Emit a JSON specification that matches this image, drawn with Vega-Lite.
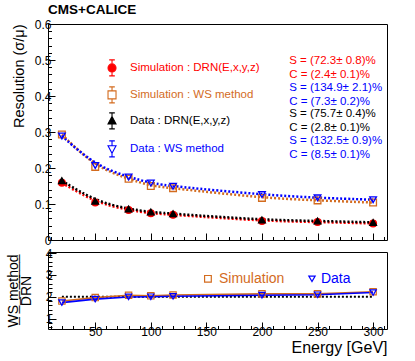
{
  "$schema": "https://vega.github.io/schema/vega-lite/v6.json",
  "padding": {"left": 5, "top": 3, "right": 0, "bottom": 0},
  "background": "white",
  "bounds": "flush",
  "title": {"text": "CMS+CALICE", "anchor": "start", "frame": "group", "fontSize": 13.5, "fontWeight": "bold", "font": "Liberation Sans", "color": "black", "offset": 1},
  "config": {
    "font": "Liberation Sans",
    "view": {"stroke": "black", "strokeWidth": 1},
    "axis": {"domain": false, "grid": false, "tickColor": "black", "labelColor": "black", "titleColor": "black", "labelFontSize": 12, "titleFontWeight": "normal", "labelFont": "Liberation Sans", "titleFont": "Liberation Sans"}
  },
  "datasets": {
    "res": [
      {"E": 20, "series": "Simulation : DRN(E,x,y,z)", "res": 0.159},
      {"E": 50, "series": "Simulation : DRN(E,x,y,z)", "res": 0.104},
      {"E": 80, "series": "Simulation : DRN(E,x,y,z)", "res": 0.083},
      {"E": 100, "series": "Simulation : DRN(E,x,y,z)", "res": 0.074},
      {"E": 120, "series": "Simulation : DRN(E,x,y,z)", "res": 0.07},
      {"E": 200, "series": "Simulation : DRN(E,x,y,z)", "res": 0.053},
      {"E": 250, "series": "Simulation : DRN(E,x,y,z)", "res": 0.05},
      {"E": 300, "series": "Simulation : DRN(E,x,y,z)", "res": 0.046},
      {"E": 20, "series": "Simulation : WS method", "res": 0.293},
      {"E": 50, "series": "Simulation : WS method", "res": 0.203},
      {"E": 80, "series": "Simulation : WS method", "res": 0.17},
      {"E": 100, "series": "Simulation : WS method", "res": 0.15},
      {"E": 120, "series": "Simulation : WS method", "res": 0.144},
      {"E": 200, "series": "Simulation : WS method", "res": 0.117},
      {"E": 250, "series": "Simulation : WS method", "res": 0.11},
      {"E": 300, "series": "Simulation : WS method", "res": 0.104},
      {"E": 20, "series": "Data : DRN(E,x,y,z)", "res": 0.165},
      {"E": 50, "series": "Data : DRN(E,x,y,z)", "res": 0.108},
      {"E": 80, "series": "Data : DRN(E,x,y,z)", "res": 0.086},
      {"E": 100, "series": "Data : DRN(E,x,y,z)", "res": 0.078},
      {"E": 120, "series": "Data : DRN(E,x,y,z)", "res": 0.073},
      {"E": 200, "series": "Data : DRN(E,x,y,z)", "res": 0.056},
      {"E": 250, "series": "Data : DRN(E,x,y,z)", "res": 0.053},
      {"E": 300, "series": "Data : DRN(E,x,y,z)", "res": 0.049},
      {"E": 20, "series": "Data : WS method", "res": 0.289},
      {"E": 50, "series": "Data : WS method", "res": 0.207},
      {"E": 80, "series": "Data : WS method", "res": 0.175},
      {"E": 100, "series": "Data : WS method", "res": 0.158},
      {"E": 120, "series": "Data : WS method", "res": 0.149},
      {"E": 200, "series": "Data : WS method", "res": 0.126},
      {"E": 250, "series": "Data : WS method", "res": 0.117},
      {"E": 300, "series": "Data : WS method", "res": 0.112}
    ],
    "ratio": [
      {"E": 20, "series": "Simulation", "ratio": 1.8},
      {"E": 50, "series": "Simulation", "ratio": 1.96},
      {"E": 80, "series": "Simulation", "ratio": 2.07},
      {"E": 100, "series": "Simulation", "ratio": 2.04},
      {"E": 120, "series": "Simulation", "ratio": 2.08},
      {"E": 200, "series": "Simulation", "ratio": 2.13},
      {"E": 250, "series": "Simulation", "ratio": 2.13},
      {"E": 300, "series": "Simulation", "ratio": 2.23},
      {"E": 20, "series": "Data", "ratio": 1.73},
      {"E": 50, "series": "Data", "ratio": 1.89},
      {"E": 80, "series": "Data", "ratio": 1.99},
      {"E": 100, "series": "Data", "ratio": 2.0},
      {"E": 120, "series": "Data", "ratio": 2.02},
      {"E": 200, "series": "Data", "ratio": 2.07},
      {"E": 250, "series": "Data", "ratio": 2.09},
      {"E": 300, "series": "Data", "ratio": 2.19}
    ],
    "one": [{"k": 1}]
  },
  "vconcat": [
    {
      "width": 339,
      "height": 216,
      "data": {"name": "res"},
      "layer": [
        {
          "mark": {"type": "line", "interpolate": "basis", "strokeDash": [2, 2], "strokeWidth": 2.5},
          "encoding": {
            "x": {"field": "E", "type": "quantitative", "scale": {"domain": [7.5, 312.5], "nice": false, "zero": false},
                  "axis": {"orient": "bottom", "values": [10,20,30,40,60,70,80,90,110,120,130,140,160,170,180,190,210,220,230,240,260,270,280,290,310], "labels": false, "tickSize": -3.5, "title": null}},
            "y": {"field": "res", "type": "quantitative", "scale": {"domain": [0, 0.6], "nice": false},
                  "axis": {"orient": "left", "values": [0.02,0.04,0.06,0.08,0.12,0.14,0.16,0.18,0.22,0.24,0.26,0.28,0.32,0.34,0.36,0.38,0.42,0.44,0.46,0.48,0.52,0.54,0.56,0.58], "labels": false, "tickSize": -3.5, "title": null}},
            "color": {"field": "series", "type": "nominal",
                      "scale": {"domain": ["Simulation : DRN(E,x,y,z)", "Simulation : WS method", "Data : DRN(E,x,y,z)", "Data : WS method"], "range": ["#ff0000", "#d36b1e", "#000000", "#0000ff"]},
                      "legend": null}
          }
        },
        {
          "mark": {"type": "point", "size": 45, "strokeWidth": 1.3, "opacity": 1},
          "encoding": {
            "x": {"field": "E", "type": "quantitative",
                  "axis": {"orient": "bottom", "values": [50,100,150,200,250,300], "labels": false, "tickSize": -7, "title": null}},
            "y": {"field": "res", "type": "quantitative",
                  "axis": {"orient": "left", "values": [0,0.1,0.2,0.3,0.4,0.5,0.6], "tickSize": -7, "labelPadding": 4, "labelExpr": "datum.value == 0 ? '0' : format(datum.value, '.1f')",
                           "title": "Resolution (σ/μ)", "titleFontSize": 14.5, "titleY": 0, "titleAlign": "right", "titlePadding": 8}},
            "shape": {"field": "series", "type": "nominal",
                      "scale": {"domain": ["Simulation : DRN(E,x,y,z)", "Simulation : WS method", "Data : DRN(E,x,y,z)", "Data : WS method"], "range": ["circle", "square", "triangle-up", "triangle-down"]}, "legend": null},
            "stroke": {"field": "series", "type": "nominal",
                       "scale": {"domain": ["Simulation : DRN(E,x,y,z)", "Simulation : WS method", "Data : DRN(E,x,y,z)", "Data : WS method"], "range": ["#ff0000", "#d36b1e", "#000000", "#0000ff"]}, "legend": null},
            "fill": {"field": "series", "type": "nominal",
                     "scale": {"domain": ["Simulation : DRN(E,x,y,z)", "Simulation : WS method", "Data : DRN(E,x,y,z)", "Data : WS method"], "range": ["#ff0000", "transparent", "#000000", "transparent"]}, "legend": null}
          }
        },
        {
          "data": {"name": "one"},
          "mark": {"type": "point", "filled": true, "opacity": 1, "size": 256, "strokeWidth": 1.1, "stroke": "#ff0000", "fill": "#ff0000",
                   "shape": "M0.5,0A0.5,0.5,0,1,1,-0.5,0A0.5,0.5,0,1,1,0.5,0ZM0,-1L0,1M-0.35,-1L0.35,-1M-0.35,1L0.35,1"},
          "encoding": {"x": {"datum": 65.1, "axis": null}, "y": {"datum": 0.478, "axis": null}}
        },
        {
          "data": {"name": "one"},
          "mark": {"type": "point", "filled": true, "opacity": 1, "size": 256, "strokeWidth": 1.1, "stroke": "#d36b1e", "fill": "transparent",
                   "shape": "M-0.5,-0.5L0.5,-0.5L0.5,0.5L-0.5,0.5ZM0,-1L0,-0.5M0,0.5L0,1M-0.35,-1L0.35,-1M-0.35,1L0.35,1"},
          "encoding": {"x": {"datum": 65.1, "axis": null}, "y": {"datum": 0.403, "axis": null}}
        },
        {
          "data": {"name": "one"},
          "mark": {"type": "point", "filled": true, "opacity": 1, "size": 256, "strokeWidth": 1.1, "stroke": "#000000", "fill": "#000000",
                   "shape": "M0,-0.55L0.5,0.4L-0.5,0.4ZM0,-1L0,1M-0.35,-1L0.35,-1M-0.35,1L0.35,1"},
          "encoding": {"x": {"datum": 65.1, "axis": null}, "y": {"datum": 0.331, "axis": null}}
        },
        {
          "data": {"name": "one"},
          "mark": {"type": "point", "filled": true, "opacity": 1, "size": 256, "strokeWidth": 1.1, "stroke": "#0000ff", "fill": "transparent",
                   "shape": "M0,0.55L0.5,-0.4L-0.5,-0.4ZM0,-1L0,-0.4M0,0.55L0,1M-0.35,-1L0.35,-1M-0.35,1L0.35,1"},
          "encoding": {"x": {"datum": 65.1, "axis": null}, "y": {"datum": 0.253, "axis": null}}
        },
        {
          "data": {"name": "one"},
          "mark": {"type": "text", "align": "left", "baseline": "middle", "fontSize": 11.5, "color": "#ff0000", "text": "Simulation : DRN(E,x,y,z)"},
          "encoding": {"x": {"datum": 81.3, "axis": null}, "y": {"datum": 0.478, "axis": null}}
        },
        {
          "data": {"name": "one"},
          "mark": {"type": "text", "align": "left", "baseline": "middle", "fontSize": 11.5, "color": "#d36b1e", "text": "Simulation : WS method"},
          "encoding": {"x": {"datum": 81.3, "axis": null}, "y": {"datum": 0.403, "axis": null}}
        },
        {
          "data": {"name": "one"},
          "mark": {"type": "text", "align": "left", "baseline": "middle", "fontSize": 11.5, "color": "#000000", "text": "Data : DRN(E,x,y,z)"},
          "encoding": {"x": {"datum": 81.3, "axis": null}, "y": {"datum": 0.331, "axis": null}}
        },
        {
          "data": {"name": "one"},
          "mark": {"type": "text", "align": "left", "baseline": "middle", "fontSize": 11.5, "color": "#0000ff", "text": "Data : WS method"},
          "encoding": {"x": {"datum": 81.3, "axis": null}, "y": {"datum": 0.253, "axis": null}}
        },
        {
          "data": {"name": "one"},
          "mark": {"type": "text", "align": "left", "baseline": "middle", "fontSize": 11.5, "lineHeight": 14, "color": "#ff0000", "text": ["S = (72.3± 0.8)%", "C = (2.4± 0.1)%"]},
          "encoding": {"x": {"datum": 224.5, "axis": null}, "y": {"datum": 0.496, "axis": null}}
        },
        {
          "data": {"name": "one"},
          "mark": {"type": "text", "align": "left", "baseline": "middle", "fontSize": 11.5, "lineHeight": 14, "color": "#0000ff", "text": ["S = (134.9± 2.1)%", "C = (7.3± 0.2)%"]},
          "encoding": {"x": {"datum": 224.5, "axis": null}, "y": {"datum": 0.422, "axis": null}}
        },
        {
          "data": {"name": "one"},
          "mark": {"type": "text", "align": "left", "baseline": "middle", "fontSize": 11.5, "lineHeight": 14, "color": "#000000", "text": ["S = (75.7± 0.4)%", "C = (2.8± 0.1)%"]},
          "encoding": {"x": {"datum": 224.5, "axis": null}, "y": {"datum": 0.351, "axis": null}}
        },
        {
          "data": {"name": "one"},
          "mark": {"type": "text", "align": "left", "baseline": "middle", "fontSize": 11.5, "lineHeight": 14, "color": "#0000ff", "text": ["S = (132.5± 0.9)%", "C = (8.5± 0.1)%"]},
          "encoding": {"x": {"datum": 224.5, "axis": null}, "y": {"datum": 0.274, "axis": null}}
        }
      ],
      "resolve": {"axis": {"x": "independent", "y": "independent"}}
    },
    {
      "width": 339,
      "height": 77,
      "data": {"name": "ratio"},
      "layer": [
        {
          "data": {"name": "one"},
          "mark": {"type": "rule", "strokeDash": [2, 2], "strokeWidth": 2, "color": "black"},
          "encoding": {"x": {"datum": 20, "axis": null, "scale": {"domain": [7.5, 312.5], "nice": false, "zero": false}}, "x2": {"datum": 300}, "y": {"datum": 2, "axis": null, "scale": {"domain": [0.52, 4.05], "nice": false, "zero": false}}}
        },
        {
          "mark": {"type": "line", "strokeWidth": 1.6},
          "encoding": {
            "x": {"field": "E", "type": "quantitative",
                  "axis": {"orient": "bottom", "values": [10,20,30,40,60,70,80,90,110,120,130,140,160,170,180,190,210,220,230,240,260,270,280,290,310], "labels": false, "tickSize": -3.5, "title": null}},
            "y": {"field": "ratio", "type": "quantitative",
                  "axis": {"orient": "left", "values": [0.6,0.8,1.2,1.4,1.6,1.8,2.2,2.4,2.6,2.8,3.2,3.4,3.6,3.8], "labels": false, "tickSize": -4, "title": null}},
            "color": {"field": "series", "type": "nominal", "scale": {"domain": ["Simulation", "Data"], "range": ["#d36b1e", "#0000ff"]}, "legend": null}
          }
        },
        {
          "mark": {"type": "point", "size": 40, "strokeWidth": 1.2, "opacity": 1},
          "encoding": {
            "x": {"field": "E", "type": "quantitative",
                  "axis": {"orient": "bottom", "values": [50,100,150,200,250,300], "tickSize": -7, "labelPadding": 4, "title": "Energy [GeV]", "titleFontSize": 16, "titleAnchor": "end", "titlePadding": 2}},
            "y": {"field": "ratio", "type": "quantitative",
                  "axis": {"orient": "left", "values": [1, 2, 3, 4], "tickSize": -8, "labelPadding": 4,
                           "title": ["W̲S̲ ̲m̲e̲t̲h̲o̲d̲", "DRN"], "titleFontSize": 14, "titleLineHeight": 13, "titleAnchor": "middle", "titlePadding": 12}},
            "shape": {"field": "series", "type": "nominal", "scale": {"domain": ["Simulation", "Data"], "range": ["square", "triangle-down"]}, "legend": null},
            "stroke": {"field": "series", "type": "nominal", "scale": {"domain": ["Simulation", "Data"], "range": ["#d36b1e", "#0000ff"]}, "legend": null},
            "fill": {"value": "transparent"}
          }
        },
        {
          "data": {"name": "one"},
          "mark": {"type": "point", "shape": "square", "size": 45, "strokeWidth": 1.2, "opacity": 1, "stroke": "#d36b1e", "fill": "transparent"},
          "encoding": {"x": {"datum": 151.4, "axis": null}, "y": {"datum": 2.82, "axis": null}}
        },
        {
          "data": {"name": "one"},
          "mark": {"type": "point", "shape": "triangle-down", "size": 40, "strokeWidth": 1.2, "opacity": 1, "stroke": "#0000ff", "fill": "transparent"},
          "encoding": {"x": {"datum": 245, "axis": null}, "y": {"datum": 2.82, "axis": null}}
        },
        {
          "data": {"name": "one"},
          "mark": {"type": "text", "align": "left", "baseline": "middle", "fontSize": 14, "color": "#d36b1e", "text": "Simulation"},
          "encoding": {"x": {"datum": 161.3, "axis": null}, "y": {"datum": 2.82, "axis": null}}
        },
        {
          "data": {"name": "one"},
          "mark": {"type": "text", "align": "left", "baseline": "middle", "fontSize": 14, "color": "#0000ff", "text": "Data"},
          "encoding": {"x": {"datum": 253.1, "axis": null}, "y": {"datum": 2.82, "axis": null}}
        }
      ],
      "resolve": {"axis": {"x": "independent", "y": "independent"}}
    }
  ],
  "spacing": 12,
  "resolve": {
    "scale": {"x": "independent", "y": "independent", "color": "independent", "stroke": "independent", "fill": "independent", "shape": "independent"}
  }
}
